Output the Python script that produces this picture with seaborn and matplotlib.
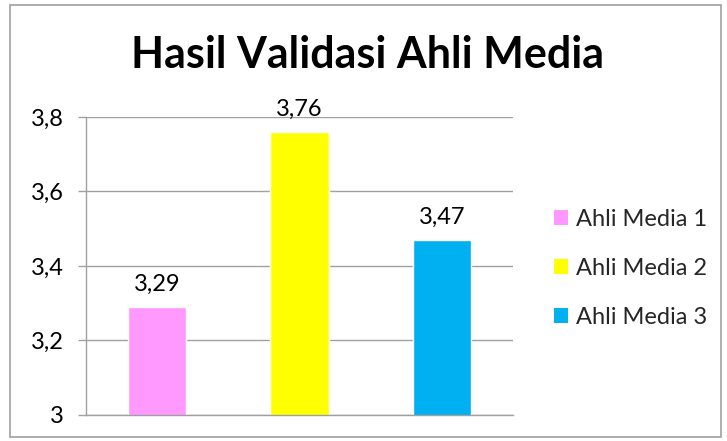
import matplotlib
matplotlib.use("Agg")
import matplotlib.pyplot as plt
from matplotlib.patches import Rectangle, Patch
from matplotlib.ticker import FuncFormatter
import seaborn as sns
import pandas as pd

# data
categories = ["Ahli Media 1", "Ahli Media 2", "Ahli Media 3"]
values = [3.29, 3.76, 3.47]
colors = ["#FF99FF", "#FFFF00", "#00B0F0"]
y_ticks = [3.0, 3.2, 3.4, 3.6, 3.8]

df = pd.DataFrame({"ahli": categories, "nilai": values})

sns.set_theme(style="white")
plt.rcParams["font.family"] = ["Lato", "DejaVu Sans"]

fig = plt.figure(figsize=(7.27, 4.41), dpi=100)
ax = fig.add_axes([0.1183, 0.059, 0.5873, 0.6757])

sns.barplot(data=df, x="ahli", y="nilai", hue="ahli", palette=colors,
            width=0.41, legend=False, ax=ax, saturation=1)

ax.set_ylim(3, 3.8)
ax.set_yticks(y_ticks)
ax.yaxis.set_major_formatter(FuncFormatter(lambda v, p: f"{v:g}".replace(".", ",")))
ax.grid(axis="y", color="#A0A0A0", linewidth=1)
ax.set_axisbelow(True)
ax.set_xlabel("")
ax.set_ylabel("")
ax.set_xticks([])
ax.tick_params(axis="y", left=True, length=6, width=1, color="#A0A0A0",
               labelsize=17, pad=10, labelcolor="black")
for side in ["top", "right"]:
    ax.spines[side].set_visible(False)
for side in ["left", "bottom"]:
    ax.spines[side].set_color("#A0A0A0")
    ax.spines[side].set_linewidth(1)

# label nilai di atas batang
for i, v in enumerate(values):
    ax.annotate(f"{v:.2f}".replace(".", ","), (i, v), xytext=(0, 9),
                textcoords="offset points", ha="center", va="bottom",
                fontsize=17, color="black", annotation_clip=False)

fig.text(0.505, 0.875, "Hasil Validasi Ahli Media", ha="center", va="center",
         fontsize=31, fontweight="bold", color="black")

handles = [Patch(facecolor=c, edgecolor="none") for c in colors]
fig.legend(handles, categories, loc="upper left", bbox_to_anchor=(0.762, 0.527),
           frameon=False, fontsize=17, handlelength=0.6, handleheight=0.6,
           handletextpad=0.35, labelspacing=1.2, borderaxespad=0, borderpad=0)

# bingkai luar
fig.patches.append(Rectangle((0.014, 0.008), 0.978, 0.98, transform=fig.transFigure,
                             fill=False, edgecolor="#A0A0A0", linewidth=1.2))

fig.savefig("out.png", dpi=100)
